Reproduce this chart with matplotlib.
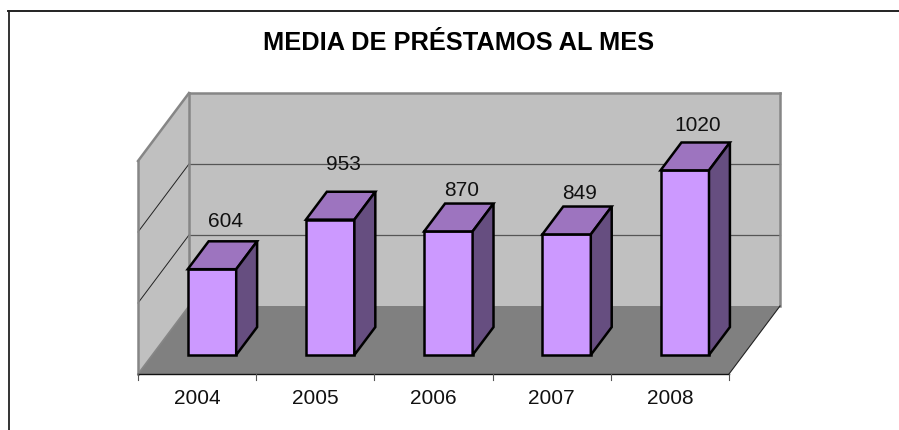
import matplotlib
matplotlib.use('Agg')
import matplotlib.pyplot as plt
from matplotlib.patches import Polygon

# data
years = ['2004', '2005', '2006', '2007', '2008']
# drawn heights; the last bar is much taller than its printed label says
heights = [604, 953, 870, 849, 1300]
labels = ['604', '953', '870', '849', '1020']
# the labels were placed by hand: px from the bar's back top edge to the label centre
label_lift = [21.5, 29, 15, 15, 19]
grid_values = [500, 1000]
axis_max = 1500

W, H = 899, 430
slot_px = 118.2      # px per category
unit_px = 0.142      # px per value unit
x0_px, y0_px = 138, 374   # front left corner of the floor
depth_dx, depth_dy = 51, 68  # px shift from front to back of the floor
bar_front, bar_back = 0.28, 0.69
bar_w = 0.41
bar_shift = 0.005

plt.rcParams['font.family'] = ['Liberation Sans', 'DejaVu Sans']

fig = plt.figure(figsize=(W / 100, H / 100), dpi=100)
ax = fig.add_axes([0, 0, 1, 1])
ax.set_xlim(-x0_px / slot_px, (W - x0_px) / slot_px)
ax.set_ylim((y0_px - H) / unit_px, y0_px / unit_px)
ax.axis('off')


# category, value, depth -> data coordinates of the oblique view
def proj(c, v, d):
    return c + d * depth_dx / slot_px, v + d * depth_dy / unit_px


def face(pts, fc, ec='none', lw=0, z=1):
    ax.add_patch(Polygon([proj(*p) for p in pts], closed=True, fc=fc, ec=ec,
                         lw=lw, zorder=z, joinstyle='miter'))


def line(a, b, color, lw, z=2):
    p, q = proj(*a), proj(*b)
    ax.plot([p[0], q[0]], [p[1], q[1]], color=color, lw=lw, zorder=z,
            solid_capstyle='projecting')


n = len(years)

# walls and floor
face([(0, 0, 1), (n, 0, 1), (n, axis_max, 1), (0, axis_max, 1)], '#c0c0c0')
face([(0, 0, 0), (0, 0, 1), (0, axis_max, 1), (0, axis_max, 0)], '#c0c0c0')
face([(0, 0, 0), (n, 0, 0), (n, 0, 1), (0, 0, 1)], '#808080')

# gridlines
for g in grid_values:
    line((0, g, 1), (n, g, 1), '#555555', 0.9)
    line((0, g, 0), (0, g, 1), '#222222', 0.7)

# wall outlines
grey = '#868686'
line((0, 0, 0), (0, axis_max, 0), grey, 1.8)
line((0, axis_max, 0), (0, axis_max, 1), grey, 1.8)
line((0, axis_max, 1), (n, axis_max, 1), grey, 1.8)
line((n, axis_max, 1), (n, 0, 1), grey, 1.8)
line((0, 0, 1), (0, axis_max, 1), grey, 1.8)
line((0, 0, 0), (0, 0, 1), grey, 1.2)
line((n, 0, 0), (n, 0, 1), '#222222', 0.8)

# category axis
line((0, 0, 0), (n, 0, 0), '#111111', 1.0)
for i in range(n + 1):
    p = proj(i, 0, 0)
    ax.plot([p[0], p[0]], [p[1], p[1] - 6 / unit_px], color='#555555', lw=0.8)

# bars
for i, h in enumerate(heights):
    left = i + (1 - bar_w) / 2 + bar_shift
    right = left + bar_w
    z = 5 + i
    face([(left, 0, bar_front), (right, 0, bar_front), (right, h, bar_front), (left, h, bar_front)],
         '#cc99ff', 'black', 1.8, z)
    face([(left, h, bar_front), (right, h, bar_front), (right, h, bar_back), (left, h, bar_back)],
         '#9d74bf', 'black', 1.8, z)
    face([(right, 0, bar_front), (right, 0, bar_back), (right, h, bar_back), (right, h, bar_front)],
         '#664e80', 'black', 1.8, z)
    # baseline sits about 7.5 px under the centre of the digits
    tx, ty = proj(i + 0.5 - 7 / slot_px, h, bar_back)
    ax.text(tx, ty + (label_lift[i] - 7.5) / unit_px, labels[i], ha='center', va='baseline',
            fontsize=15, color='#111111', zorder=20)

for i, y in enumerate(years):
    tx, ty = proj(i + 0.5, 0, 0)
    ax.text(tx, ty - 24 / unit_px, y, ha='center', va='center', fontsize=15, color='#111111')

# title
fig.text(459 / W, 1 - 50 / H, 'MEDIA DE PRÉSTAMOS AL MES', ha='center', va='baseline',
         fontsize=18.3, fontweight='bold')

# chart frame
fig.add_artist(plt.Line2D([8.5 / W, 8.5 / W], [0, 1 - 11 / H], color='#333333', lw=1.4))
fig.add_artist(plt.Line2D([8 / W, 1], [1 - 11 / H, 1 - 11 / H], color='#222222', lw=1.4))

fig.savefig('out.png', dpi=100)
